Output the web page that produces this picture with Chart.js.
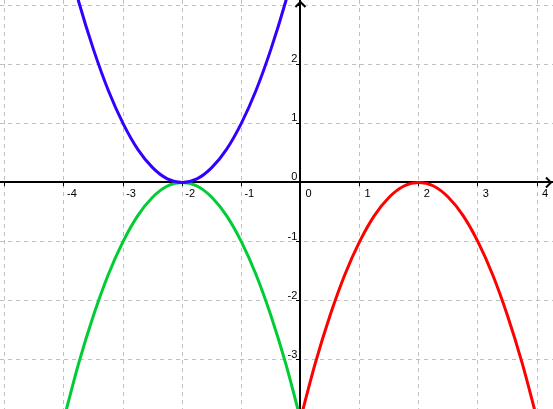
<!DOCTYPE html>
<html>
<head>
<meta charset="utf-8">
<script src="https://cdn.jsdelivr.net/npm/chart.js@4"></script>
<style>
  html, body { margin: 0; padding: 0; background: #fff; }
  #wrap { width: 553px; height: 409px; position: relative; }
</style>
</head>
<body>
<div id="wrap"><canvas id="graph"></canvas></div>
<script>
// x positions of the left curves (blue, green) and right curve (red)
const xLeft = [-4, -3.75, -3.5, -3.25, -3, -2.75, -2.5, -2.25, -2, -1.75, -1.5, -1.25, -1, -0.75, -0.5, -0.25, 0];
const xRight = [0, 0.25, 0.5, 0.75, 1, 1.25, 1.5, 1.75, 2, 2.25, 2.5, 2.75, 3, 3.25, 3.5, 3.75, 4];

// values
const blueY = [4, 3.06, 2.25, 1.56, 1, 0.56, 0.25, 0.06, 0, 0.06, 0.25, 0.56, 1, 1.56, 2.25, 3.06, 4];
const greenY = [-4, -3.06, -2.25, -1.56, -1, -0.56, -0.25, -0.06, 0, -0.06, -0.25, -0.56, -1, -1.56, -2.25, -3.06, -4];
const redY = [-4, -3.06, -2.25, -1.56, -1, -0.56, -0.25, -0.06, 0, -0.06, -0.25, -0.56, -1, -1.56, -2.25, -3.06, -4];

// which ticks get a label
const xTickLabels = [-4, -3, -2, -1, 0, 1, 2, 3, 4];
const yTickLabels = [-3, -2, -1, 0, 1, 2];

const toPoints = (xs, ys) => xs.map((x, i) => ({ x: x, y: ys[i] }));

const axisArrows = {
  id: "axisArrows",
  afterDraw(chart) {
    const { ctx, chartArea, scales } = chart;
    const ox = scales.x.getPixelForValue(0);
    const oy = scales.y.getPixelForValue(0);
    ctx.save();
    ctx.strokeStyle = "#000";
    ctx.lineWidth = 2;
    ctx.beginPath();
    const rx = chartArea.right - 2;
    ctx.moveTo(rx - 5, oy - 5);
    ctx.lineTo(rx, oy);
    ctx.lineTo(rx - 5, oy + 5);
    const ty = chartArea.top + 2;
    ctx.moveTo(ox - 5, ty + 5);
    ctx.lineTo(ox, ty);
    ctx.lineTo(ox + 5, ty + 5);
    ctx.stroke();
    ctx.restore();
  }
};

// axes sit inside the plot, so don't let their labels pad the chart area
const noPadding = (scale) => {
  scale.paddingLeft = 0;
  scale.paddingRight = 0;
  scale.paddingTop = 0;
  scale.paddingBottom = 0;
};

const line = (data, color) => ({
  data: data,
  showLine: true,
  borderColor: color,
  borderWidth: 3,
  pointRadius: 0,
  cubicInterpolationMode: "monotone",
  fill: false
});

const tickFont = { family: "'Liberation Sans', Arial, sans-serif", size: 11 };

new Chart(document.getElementById("graph"), {
  type: "scatter",
  data: {
    datasets: [
      line(toPoints(xLeft, blueY), "#3300ff"),
      line(toPoints(xLeft, greenY), "#00cc33"),
      line(toPoints(xRight, redY), "#ff0000")
    ]
  },
  options: {
    responsive: true,
    maintainAspectRatio: false,
    animation: false,
    layout: { padding: 0 },
    plugins: { legend: { display: false }, tooltip: { enabled: false } },
    scales: {
      x: {
        type: "linear",
        position: { y: 0 },
        min: -5.08,
        max: 4.27,
        afterFit: noPadding,
        grid: { color: "#c0c0c0", tickColor: "#000", tickLength: 3, tickWidth: 1, tickBorderDash: [] },
        border: { color: "#000", width: 2, dash: [4, 4] },
        ticks: {
          stepSize: 1,
          includeBounds: false,
          maxRotation: 0,
          autoSkip: false,
          padding: 2,
          labelOffset: 8,
          color: "#000",
          font: tickFont,
          callback: (v) => (xTickLabels.includes(v) ? String(v) : "")
        }
      },
      y: {
        type: "linear",
        position: { x: 0 },
        min: -3.83,
        max: 3.085,
        afterFit: noPadding,
        grid: { color: "#c0c0c0", tickColor: "#000", tickLength: 3, tickWidth: 1, tickBorderDash: [] },
        border: { color: "#000", width: 2, dash: [4, 4] },
        ticks: {
          stepSize: 1,
          includeBounds: false,
          autoSkip: false,
          labelOffset: -5,
          color: "#000",
          font: tickFont,
          // centre-positioned y labels ignore padding, a trailing space keeps them off the axis
          callback: (v) => (yTickLabels.includes(v) ? String(v) + " " : "")
        }
      }
    }
  },
  plugins: [axisArrows]
});
</script>
</body>
</html>
